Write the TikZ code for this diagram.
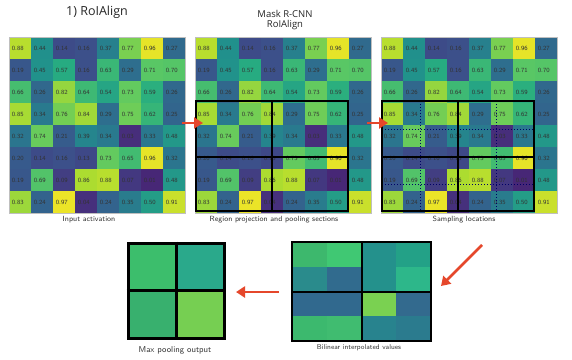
\documentclass[tikz,border=0pt]{standalone}
\usepackage{fontspec}
\newfontfamily\titlefont{Open Sans}
\usetikzlibrary{arrows.meta}
\definecolor{v0}{HTML}{440154}
\definecolor{v1}{HTML}{472D7B}
\definecolor{v2}{HTML}{3B528B}
\definecolor{v3}{HTML}{2C728E}
\definecolor{v4}{HTML}{21918C}
\definecolor{v5}{HTML}{28AE80}
\definecolor{v6}{HTML}{5EC962}
\definecolor{v7}{HTML}{ADDC30}
\definecolor{v8}{HTML}{FDE725}
\definecolor{arrred}{HTML}{E5472B}
\definecolor{m11}{HTML}{3CBE6C}
\definecolor{m12}{HTML}{2AA98B}
\definecolor{m21}{HTML}{38B06E}
\definecolor{m22}{HTML}{76CF52}
\definecolor{b11}{HTML}{3DB86D}
\definecolor{b12}{HTML}{40C873}
\definecolor{b13}{HTML}{24918C}
\definecolor{b14}{HTML}{23A187}
\definecolor{b21}{HTML}{2A8B8C}
\definecolor{b22}{HTML}{316B8E}
\definecolor{b23}{HTML}{24918C}
\definecolor{b24}{HTML}{2DB78A}
\definecolor{b31}{HTML}{31698E}
\definecolor{b32}{HTML}{31698E}
\definecolor{b33}{HTML}{7AD151}
\definecolor{b34}{HTML}{336A8E}
\definecolor{b41}{HTML}{3CB96E}
\definecolor{b42}{HTML}{40BC70}
\definecolor{b43}{HTML}{28838E}
\definecolor{b44}{HTML}{2B7B8E}
\newcommand\vircolor[1]{%
  \pgfmathsetmacro\vscaled{(0.1+0.9*#1)*8}%
  \pgfmathtruncatemacro\vidx{min(floor(\vscaled),7)}%
  \pgfmathtruncatemacro\vnext{\vidx+1}%
  \pgfmathtruncatemacro\vpct{round(100*(\vnext-\vscaled))}%
  \colorlet{cellc}{v\vidx!\vpct!v\vnext}%
}
\def\griddata{{0.88,0.44,0.14,0.16,0.37,0.77,0.96,0.27},
{0.19,0.45,0.57,0.16,0.63,0.29,0.71,0.70},
{0.66,0.26,0.82,0.64,0.54,0.73,0.59,0.26},
{0.85,0.34,0.76,0.84,0.29,0.75,0.62,0.25},
{0.32,0.74,0.21,0.39,0.34,0.03,0.33,0.48},
{0.20,0.14,0.16,0.13,0.73,0.65,0.96,0.32},
{0.19,0.69,0.09,0.86,0.88,0.07,0.01,0.48},
{0.83,0.24,0.97,0.04,0.24,0.35,0.50,0.91}}
\newcommand\drawgrid[3]{%
  \foreach \rowvals [count=\r from 0] in \griddata {%
    \foreach \v [count=\c from 0] in \rowvals {%
      \vircolor{\v}%
      \fill[cellc] ({#1+\c*22},{#2+\r*22}) rectangle ++(22,22);
      \node[cellnum] (#3-\r-\c) at ({#1+\c*22+2.6},{#2+\r*22+11}) {\v};
    }%
  }%
  \node[gridframe] (#3) at ({#1+88},{#2+88}) {};
}
\tikzset{
  cellnum/.style={anchor=west, font=\sffamily\fontsize{6.3}{7}\selectfont, text=black!80, inner sep=0pt},
  gridframe/.style={draw=black!25, line width=0.4pt, minimum width=176pt, minimum height=176pt, inner sep=0pt},
  gridlabel/.style={font=\sffamily\fontsize{7.5}{8}\selectfont, text=black!80, inner sep=0pt},
  titlelabel/.style={font=\titlefont, text=black!85, inner sep=0pt},
  binbox/.style={draw=black, line width=2pt},
  sampleline/.style={draw=black!60!blue, dotted, line width=1pt},
  redarrow/.style={draw=arrred, line width=2.6pt, -{Triangle[length=9pt,width=11pt]}},
  outline/.style={draw=black, line width=2.4pt},
}
\begin{document}
\begin{tikzpicture}[x=1pt,y=-1pt]
\useasboundingbox[fill=white] (0,0) rectangle (572,359);
% titles
\node[titlelabel, font=\titlefont\fontsize{12.5}{14}\selectfont] (t1) at (97,12) {1) RoIAlign};
\node[titlelabel, font=\titlefont\fontsize{9.5}{11}\selectfont, align=center] (t2) at (285,20) {Mask R-CNN\\[-1pt]RoIAlign};
% grids
\drawgrid{9}{37}{ga}
\drawgrid{195}{37}{gb}
\drawgrid{381}{37}{gc}
% grid labels
\node[gridlabel] (la) at (89,220) {Input activation};
\node[gridlabel] (lb) at (274,220) {Region projection and pooling sections};
\node[gridlabel] (lc) at (464,220) {Sampling locations};
% region projection
\draw[binbox] (196,101) rectangle (348,211);
\draw[binbox] (272,101) -- (272,211);
\draw[binbox] (196,157) -- (348,157);
% sampling locations
\draw[sampleline] (420,101) -- (420,211);
\draw[sampleline] (496,101) -- (496,211);
\draw[sampleline] (382,129) -- (534,129);
\draw[sampleline] (382,184) -- (534,184);
\draw[binbox] (382,101) rectangle (534,211);
\draw[binbox] (458,101) -- (458,211);
\draw[binbox] (382,157) -- (534,157);
% arrows between top grids
\coordinate (a1s) at (182,123);
\coordinate (a1e) at (203,123);
\coordinate (a2s) at (367,123);
\coordinate (a2e) at (388,123);
\draw[redarrow] (a1s) -- (a1e);
\draw[redarrow] (a2s) -- (a2e);
% bilinear interpolated values
\foreach \r in {1,2,3,4}{
  \foreach \c in {1,2,3,4}{
    \fill[b\r\c] ({292+(\c-1)*34.75},{242+(\r-1)*24.75}) rectangle ++(34.75,24.75);
  }
}
\node[draw=black, line width=2pt, minimum width=139pt, minimum height=99pt, inner sep=0pt] (bil) at (361.5,291.5) {};
\draw[black, line width=2pt] (bil.north) -- (bil.south);
\draw[black, line width=2pt] (bil.west) -- (bil.east);
\node[gridlabel, font=\sffamily\fontsize{7}{8}\selectfont] (lbil) at (359,348) {Bilinear interpolated values};
% max pooling output
\fill[m11] (128,243) rectangle (176,290.5);
\fill[m12] (176,243) rectangle (224,290.5);
\fill[m21] (128,290.5) rectangle (176,338);
\fill[m22] (176,290.5) rectangle (224,338);
\node[draw=black, line width=3pt, minimum width=96pt, minimum height=95pt, inner sep=0pt] (mp) at (176,290.5) {};
\draw[black, line width=3pt] (mp.north) -- (mp.south);
\draw[black, line width=3pt] (mp.west) -- (mp.east);
\node[gridlabel, font=\sffamily\fontsize{8.5}{9}\selectfont] (lmp) at (175,350) {Max pooling output};
% bottom arrows
\coordinate (a3s) at (482,245);
\coordinate (a3e) at (441,286);
\draw[redarrow] (a3s) -- (a3e);
\coordinate (a4s) at (279,292);
\coordinate (a4e) at (236,292);
\draw[redarrow] (a4s) -- (a4e);
\end{tikzpicture}
\end{document}
